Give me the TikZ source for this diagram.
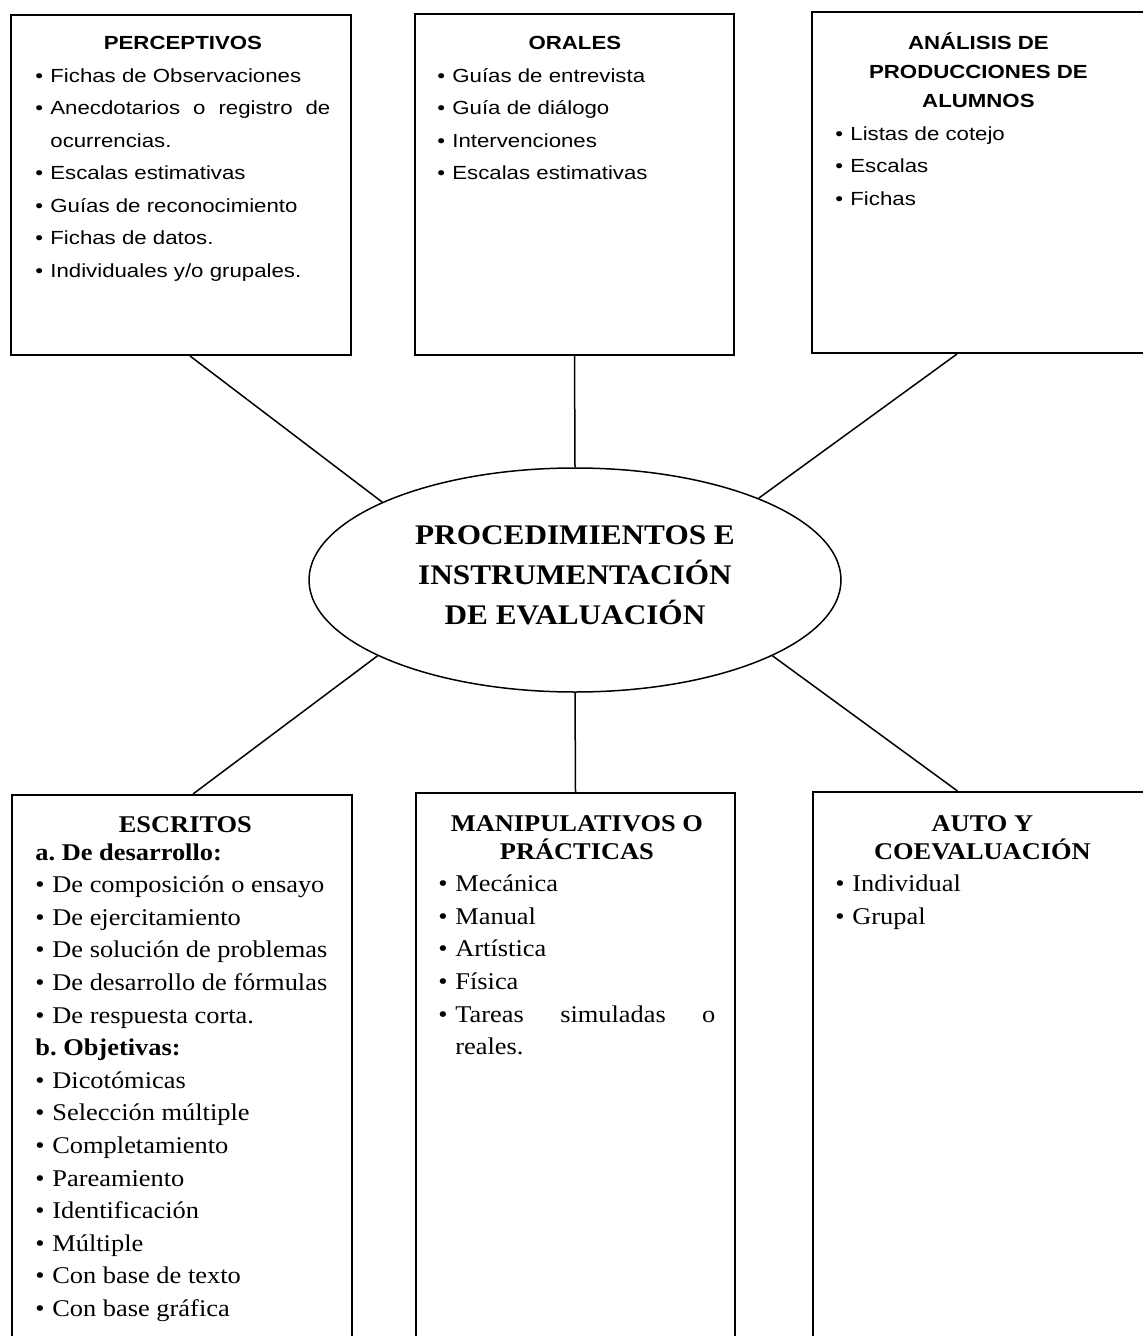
\documentclass[tikz,border=0pt]{standalone}
\usepackage{fontspec}
\newfontfamily\arialf{Liberation Sans}[FakeStretch=1.17]
\newfontfamily\timesf{Liberation Serif}[FakeStretch=1.10]
\usetikzlibrary{shapes.geometric}

\newlength{\bulw}
\newcommand{\itm}[1]{\par\noindent\hangindent=\bulw\hangafter=1\makebox[\bulw][l]{\textbullet}#1}

\begin{document}
\begin{tikzpicture}[x=0.5pt, y=-0.5pt,
                    box/.style={draw, line width=1pt, inner sep=0pt},
                    toptext/.style={anchor=base west, inner sep=0pt, align=justify, font=\arialf\fontsize{9.5}{16.25}\selectfont,
                                    execute at begin node={\setlength{\bulw}{7.5pt}}},
                    bottext/.style={anchor=base west, inner sep=0pt, align=justify, font=\timesf\fontsize{12}{16.3}\selectfont,
                                    execute at begin node={\setlength{\bulw}{8.5pt}}},
                    link/.style={draw, line width=0.75pt}]

                    \useasboundingbox (0,0) rectangle (1143,1336);
                    \clip (0,0) rectangle (1143,1336);

                    % Center node
                    \node[shape=ellipse, draw, line width=0.75pt, minimum width=266pt, minimum height=112pt, inner sep=0pt,
                          align=center, font=\timesf\bfseries\fontsize{14.2}{20}\selectfont] (core) at (575,580)
                          {PROCEDIMIENTOS E\\ INSTRUMENTACIÓN\\ DE EVALUACIÓN\\[-15pt]};

                    % Upper boxes
                    \node[box, minimum width=170pt, minimum height=170pt] (perc) at (181,185) {};     % Left box
                    \node[box, minimum width=159.5pt, minimum height=170.5pt] (oral) at (574.5,184.5) {}; % Middle box
                    \node[box, minimum width=169pt, minimum height=170.5pt] (prod) at (981,182.5) {};  % Right box

                    \node[toptext, text width=147.5pt] (perctxt) at (35,50) {%
                        {\centering\bfseries PERCEPTIVOS\par}
                        \itm{Fichas de Observaciones}
                        \itm{Anecdotarios o registro de ocurrencias.}
                        \itm{Escalas estimativas}
                        \itm{Guías de reconocimiento}
                        \itm{Fichas de datos.}
                        \itm{Individuales y/o grupales.}\par};
                    \node[toptext, text width=137.5pt] (oraltxt) at (437,50) {%
                        {\centering\bfseries ORALES\par}
                        \itm{Guías de entrevista}
                        \itm{Guía de diálogo}
                        \itm{Intervenciones}
                        \itm{Escalas estimativas}\par};
                    \node[toptext, text width=143pt] (prodtxt) at (835,50) {%
                        {\centering\bfseries\fontsize{9.5}{14.5}\selectfont ANÁLISIS DE\\ PRODUCCIONES DE\\ ALUMNOS\par}
                        \itm{Listas de cotejo}
                        \itm{Escalas}
                        \itm{Fichas}\par};

                    % Lower boxes
                    \node[box, minimum width=170pt, minimum height=275pt] (escr) at (182,1070) {};      % Left box
                    \node[box, minimum width=159.5pt, minimum height=276pt] (manip) at (575.5,1069) {}; % Middle box
                    \node[box, minimum width=168.5pt, minimum height=276.5pt] (auto) at (981.5,1068.5) {}; % Right box

                    \node[bottext, text width=150pt] (escrtxt) at (35,832) {%
                        {\centering\bfseries ESCRITOS\par}\vspace{-2.3pt}
                        \par\noindent\textbf{a.\ De desarrollo:}
                        \itm{De composición o ensayo}
                        \itm{De ejercitamiento}
                        \itm{De solución de problemas}
                        \itm{De desarrollo de fórmulas}
                        \itm{De respuesta corta.}
                        \par\noindent\textbf{b.\ Objetivas:}
                        \itm{Dicotómicas}
                        \itm{Selección múltiple}
                        \itm{Completamiento}
                        \itm{Pareamiento}
                        \itm{Identificación}
                        \itm{Múltiple}
                        \itm{Con base de texto}
                        \itm{Con base gráfica}\par};
                    \node[bottext, text width=138.5pt] (maniptxt) at (438,831) {%
                        {\centering\bfseries\fontsize{12}{14}\selectfont MANIPULATIVOS O\\ PRÁCTICAS\par}
                        \itm{Mecánica}
                        \itm{Manual}
                        \itm{Artística}
                        \itm{Física}
                        \itm{Tareas simuladas o reales.}\par};
                    \node[bottext, text width=147pt] (autotxt) at (835,831) {%
                        {\centering\bfseries\fontsize{12}{14}\selectfont AUTO Y\\ COEVALUACIÓN\par}
                        \itm{Individual}
                        \itm{Grupal}\par};

                    % Connectors
                    \draw[link] ([xshift=4.5pt]perc.south) -- (core.158);
                    \draw[link] (oral.south) -- (core.90);
                    \draw[link] ([xshift=-12pt]prod.south) -- (core.24);
                    \draw[link] ([xshift=5.5pt]escr.north) -- (core.201);
                    \draw[link] (manip.north) -- (core.270);
                    \draw[link] ([xshift=-12pt]auto.north) -- (core.339);
                \end{tikzpicture}
\end{document}
